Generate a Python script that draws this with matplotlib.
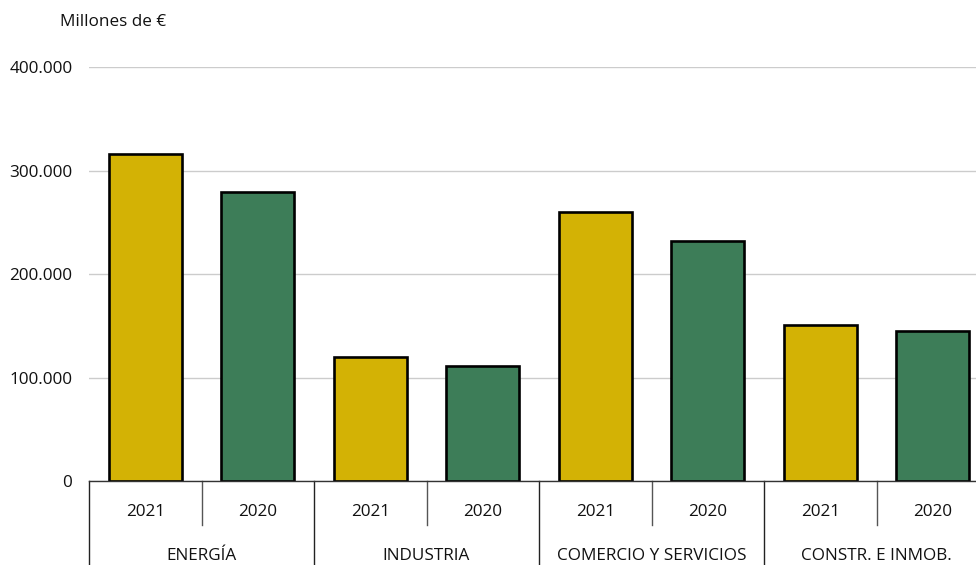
import matplotlib.pyplot as plt
import matplotlib.transforms as mtransforms
from matplotlib.ticker import FuncFormatter

# Data (millones de euros)
sectors = ["ENERGÍA", "INDUSTRIA", "COMERCIO Y SERVICIOS", "CONSTR. E INMOB."]
years = ["2021", "2020"]
values_2021 = [316000, 120000, 260000, 151000]
values_2020 = [279000, 111000, 232000, 145000]
y_ticks = [0, 100000, 200000, 300000, 400000]

yellow = "#D3B205"
green = "#3D7D58"
plt.rcParams["font.family"] = ["Open Sans", "DejaVu Sans"]
fs = 12.3

W, H = 976, 565
fig = plt.figure(figsize=(W / 100, H / 100), dpi=100)
ax = fig.add_axes([89 / W, (H - 481) / H, 900 / W, 414 / H])

pos_2021 = [2 * i for i in range(len(sectors))]
pos_2020 = [2 * i + 1 for i in range(len(sectors))]
ax.bar(pos_2021, values_2021, width=0.65, color=yellow, edgecolor="black", linewidth=1.9, zorder=3)
ax.bar(pos_2020, values_2020, width=0.65, color=green, edgecolor="black", linewidth=1.9, zorder=3)

ax.set_xlim(-0.5, 2 * len(sectors) - 0.5)
ax.set_ylim(0, 400000)
ax.set_yticks(y_ticks)
ax.yaxis.set_major_formatter(FuncFormatter(lambda v, p: f"{int(v):,}".replace(",", ".")))
ax.tick_params(axis="y", length=0, pad=12, labelsize=fs, labelcolor="#111111")
ax.set_xticks([])
ax.grid(axis="y", color="#CCCCCC", linewidth=1, zorder=0)
for s in ["top", "right", "left"]:
    ax.spines[s].set_visible(False)
ax.spines["bottom"].set_color("#333333")
ax.spines["bottom"].set_linewidth(1)
ax.spines["bottom"].set_zorder(4)

# category axis below the bars
trans = mtransforms.blended_transform_factory(ax.transData, fig.transFigure)
y0 = (H - 481) / H
y_short = (H - 525) / H
for i in range(len(sectors)):
    ax.plot([2 * i + 0.5] * 2, [y0, y_short], transform=trans, color="#555555", lw=1, clip_on=False)
for i in range(len(sectors) + 1):
    ax.plot([2 * i - 0.5] * 2, [y0, -0.01], transform=trans, color="#222222", lw=1, clip_on=False)
for i, name in enumerate(sectors):
    for j, yr in enumerate(years):
        ax.text(2 * i + j, (H - 512) / H, yr, transform=trans, ha="center", va="center",
                fontsize=fs, color="#111111")
    ax.text(2 * i + 0.5, (H - 556) / H, name, transform=trans, ha="center", va="center",
            fontsize=fs, color="#111111")

fig.text(60 / W, (H - 22) / H, "Millones de €", ha="left", va="center", fontsize=fs, color="#111111")

fig.savefig("out.png", dpi=100)
